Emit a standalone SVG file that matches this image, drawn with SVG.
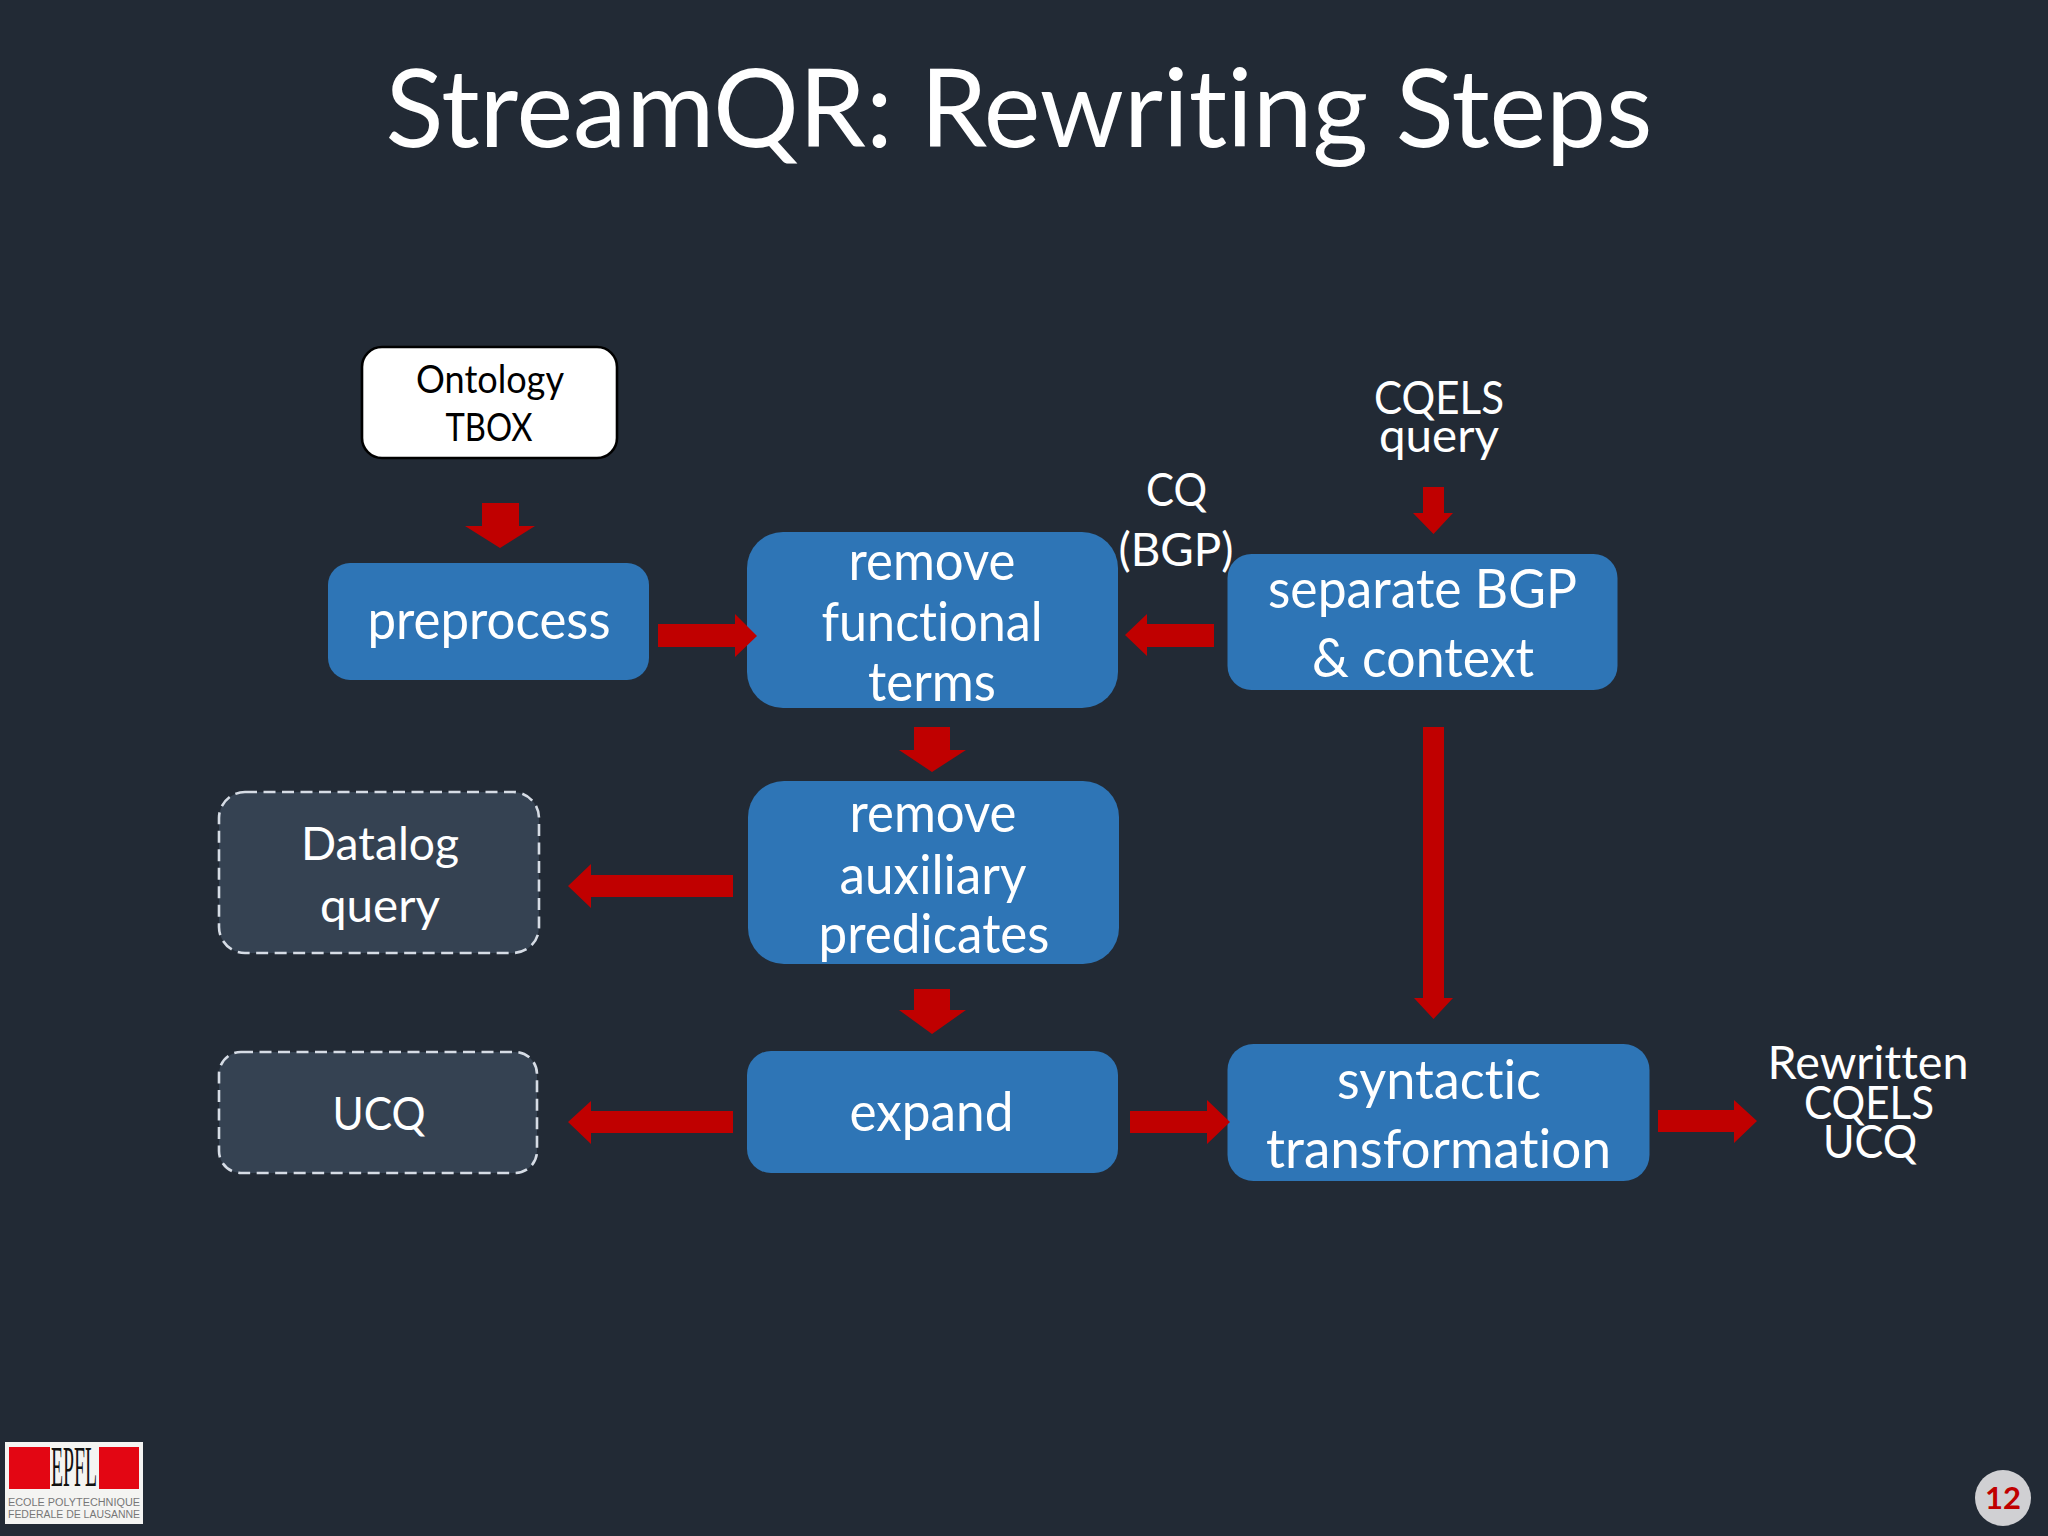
<svg xmlns="http://www.w3.org/2000/svg" width="2048" height="1536" viewBox="0 0 2048 1536">
<style>
text{font-family:"Lato","Open Sans","Liberation Sans",sans-serif;text-anchor:middle;fill:#fff;font-variant-ligatures:none}
.t{font-size:54px}.m{font-size:47px}.s{font-size:39px}
.b{fill:#2e75b6}.d{fill:#354252;stroke:#d6dce5;stroke-width:2.6;stroke-dasharray:12 6.500}
.a{fill:#c00000}
</style>
<rect width="2048" height="1536" fill="#222a35"/>
<text id="title" x="1019" y="147" font-size="108" textLength="1267" lengthAdjust="spacingAndGlyphs">StreamQR: Rewriting Steps</text>
<g id="ontology">
<rect x="362" y="347" width="255" height="111" rx="20" fill="#fff" stroke="#000" stroke-width="2.600"/>
<text class="s" x="490" y="393" textLength="148" lengthAdjust="spacingAndGlyphs" style="fill:#000">Ontology</text>
<text class="s" x="489" y="441" textLength="87" lengthAdjust="spacingAndGlyphs" style="fill:#000">TBOX</text>
</g>
<g id="preprocess">
<rect class="b" x="328" y="563" width="321" height="117" rx="22"/>
<text class="t" x="489" y="639" textLength="243" lengthAdjust="spacingAndGlyphs">preprocess</text>
</g>
<g id="remove-functional">
<rect class="b" x="747" y="532" width="371" height="176" rx="36"/>
<text class="t" x="932" y="580" textLength="167" lengthAdjust="spacingAndGlyphs">remove</text>
<text class="t" x="932" y="641" textLength="221" lengthAdjust="spacingAndGlyphs">functional</text>
<text class="t" x="932" y="701" textLength="128" lengthAdjust="spacingAndGlyphs">terms</text>
</g>
<g id="separate">
<rect class="b" x="1227.500" y="554" width="390" height="136" rx="24"/>
<text class="t" x="1422.500" y="608" textLength="309" lengthAdjust="spacingAndGlyphs">separate BGP</text>
<text class="t" x="1423" y="677" textLength="222" lengthAdjust="spacingAndGlyphs">&amp; context</text>
</g>
<g id="remove-auxiliary">
<rect class="b" x="748" y="781" width="371" height="183" rx="36"/>
<text class="t" x="933" y="832" textLength="167" lengthAdjust="spacingAndGlyphs">remove</text>
<text class="t" x="933" y="894" textLength="187" lengthAdjust="spacingAndGlyphs">auxiliary</text>
<text class="t" x="934" y="953" textLength="231" lengthAdjust="spacingAndGlyphs">predicates</text>
</g>
<g id="expand">
<rect class="b" x="747" y="1051" width="371" height="122" rx="24"/>
<text class="t" x="931.500" y="1131" textLength="164" lengthAdjust="spacingAndGlyphs">expand</text>
</g>
<g id="syntactic">
<rect class="b" x="1227.500" y="1044" width="422" height="137" rx="26"/>
<text class="t" x="1439" y="1099" textLength="204" lengthAdjust="spacingAndGlyphs">syntactic</text>
<text class="t" x="1438.500" y="1168" textLength="345" lengthAdjust="spacingAndGlyphs">transformation</text>
</g>
<g id="datalog">
<rect class="d" x="219" y="792" width="320" height="161" rx="26"/>
<text class="m" x="380" y="860" textLength="158" lengthAdjust="spacingAndGlyphs">Datalog</text>
<text class="m" x="380" y="922" textLength="120" lengthAdjust="spacingAndGlyphs">query</text>
</g>
<g id="ucq">
<rect class="d" x="219" y="1052" width="318" height="121" rx="22"/>
<text class="m" x="379" y="1130" textLength="93" lengthAdjust="spacingAndGlyphs">UCQ</text>
</g>
<g id="cqels-query">
<text class="m" x="1439" y="414" textLength="130" lengthAdjust="spacingAndGlyphs">CQELS</text>
<text class="m" x="1439" y="452" textLength="120" lengthAdjust="spacingAndGlyphs">query</text>
</g>
<g id="cq-bgp">
<text class="m" x="1176.500" y="506" textLength="61" lengthAdjust="spacingAndGlyphs">CQ</text>
<text class="m" x="1176" y="566" textLength="115" lengthAdjust="spacingAndGlyphs">(BGP)</text>
</g>
<g id="rewritten">
<text class="m" x="1868" y="1079" textLength="201" lengthAdjust="spacingAndGlyphs">Rewritten</text>
<text class="m" x="1869" y="1119" textLength="130" lengthAdjust="spacingAndGlyphs">CQELS</text>
<text class="m" x="1870" y="1158" textLength="94" lengthAdjust="spacingAndGlyphs">UCQ</text>
</g>
<g id="connectors">
<polygon class="a" points="482,503 519,503 519,526 535,526 500,548 465,526 482,526"/>
<polygon class="a" points="658,624 735,624 735,614 757,636 735,657 735,647 658,647"/>
<polygon class="a" points="1214,624 1147,624 1147,614 1125,635 1147,656 1147,647 1214,647"/>
<polygon class="a" points="1423,487 1444,487 1444,513 1453,513 1433.500,534 1413,513 1423,513"/>
<polygon class="a" points="1423,727 1444,727 1444,998 1453,998 1433.500,1019 1414,998 1423,998"/>
<polygon class="a" points="914,727 950,727 950,750 966,750 932,772 899,750 914,750"/>
<polygon class="a" points="914,989 950,989 950,1010 966,1010 932,1034 899,1010 914,1010"/>
<polygon class="a" points="733,875 591,875 591,864 568,886 591,908 591,897 733,897"/>
<polygon class="a" points="733,1111 591,1111 591,1101 568,1122 591,1144 591,1133 733,1133"/>
<polygon class="a" points="1130,1111 1207,1111 1207,1100 1230,1122 1207,1144 1207,1133 1130,1133"/>
<polygon class="a" points="1658,1110 1734,1110 1734,1100 1757,1121 1734,1143 1734,1132 1658,1132"/>
</g>
<g id="logo">
<rect x="5" y="1442" width="138" height="82" fill="#f4f4f2"/>
<rect x="9" y="1447" width="43" height="42" fill="#e30613"/>
<rect x="97" y="1447" width="42" height="42" fill="#e30613"/>
<rect x="50" y="1443" width="49" height="47" fill="#f4f4f2"/>
<text x="74" y="1486" font-size="58" textLength="46" lengthAdjust="spacingAndGlyphs" style="font-family:'Liberation Serif',serif;fill:#111">EPFL</text>
<text x="74" y="1506" font-size="10" textLength="132" lengthAdjust="spacingAndGlyphs" style="font-family:'Liberation Sans',sans-serif;fill:#777">ECOLE POLYTECHNIQUE</text>
<text x="74" y="1518" font-size="10" textLength="132" lengthAdjust="spacingAndGlyphs" style="font-family:'Liberation Sans',sans-serif;fill:#777">FEDERALE DE LAUSANNE</text>
</g>
<g id="page">
<circle cx="2003" cy="1498" r="28" fill="#d0d0d3"/>
<text x="2003" y="1509" font-size="31" font-weight="700" style="fill:#c00000">12</text>
</g>
</svg>
